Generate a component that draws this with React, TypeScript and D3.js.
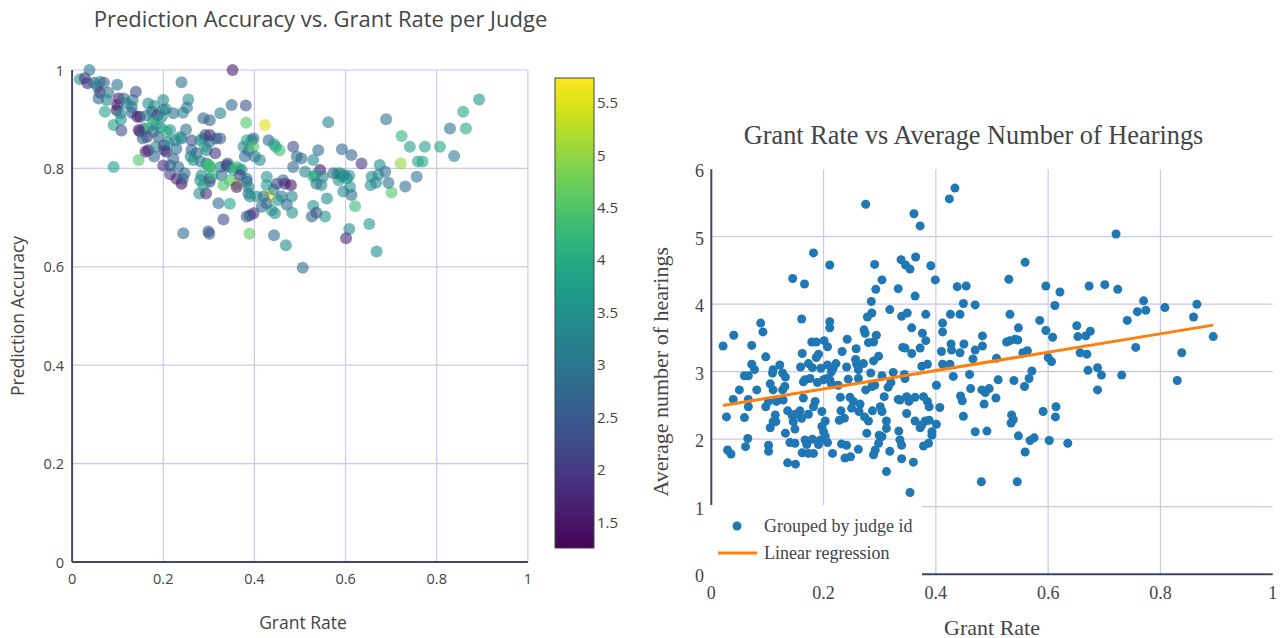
import React from "react";
import * as d3 from "d3";

// ---------- Left chart data: grant rate, prediction accuracy, avg hearings (colour) ----------
const leftGrant = [
  0.038, 0.017, 0.028, 0.034, 0.048, 0.061, 0.070, 0.056, 0.061, 0.058, 0.080, 0.076, 0.099, 0.072, 0.091,
  0.102, 0.099, 0.098, 0.106, 0.113, 0.120, 0.131, 0.133, 0.140, 0.131, 0.107, 0.108, 0.143, 0.149, 0.149,
  0.164, 0.158, 0.167, 0.180, 0.175, 0.187, 0.200, 0.200, 0.206, 0.178, 0.165, 0.184, 0.164, 0.146, 0.155,
  0.178, 0.189, 0.194, 0.207, 0.215, 0.197, 0.222, 0.243, 0.255, 0.240, 0.252, 0.167, 0.161, 0.180, 0.184,
  0.202, 0.202, 0.207, 0.146, 0.091, 0.211, 0.226, 0.229, 0.240, 0.237, 0.250, 0.222, 0.215, 0.200, 0.215,
  0.229, 0.240, 0.243, 0.247, 0.233, 0.262, 0.262, 0.260, 0.273, 0.281, 0.288, 0.291, 0.302, 0.316, 0.295,
  0.266, 0.282, 0.295, 0.299, 0.301, 0.302, 0.284, 0.281, 0.302, 0.302, 0.279, 0.294, 0.288, 0.308, 0.314,
  0.325, 0.328, 0.332, 0.339, 0.341, 0.346, 0.346, 0.354, 0.361, 0.367, 0.361, 0.361, 0.372, 0.368, 0.383,
  0.383, 0.387, 0.387, 0.390, 0.394, 0.383, 0.398, 0.387, 0.376, 0.398, 0.379, 0.401, 0.412, 0.325, 0.292,
  0.302, 0.382, 0.350, 0.381, 0.325, 0.288, 0.302, 0.352, 0.423, 0.431, 0.443, 0.455, 0.447, 0.485, 0.493,
  0.503, 0.485, 0.511, 0.529, 0.540, 0.544, 0.529, 0.533, 0.547, 0.536, 0.550, 0.562, 0.405, 0.427, 0.427,
  0.433, 0.442, 0.449, 0.463, 0.467, 0.480, 0.482, 0.460, 0.452, 0.438, 0.445, 0.427, 0.416, 0.420, 0.390,
  0.398, 0.383, 0.471, 0.483, 0.526, 0.555, 0.346, 0.321, 0.332, 0.244, 0.299, 0.301, 0.389, 0.443, 0.469,
  0.506, 0.689, 0.893, 0.858, 0.864, 0.829, 0.838, 0.723, 0.741, 0.774, 0.807, 0.721, 0.759, 0.769, 0.756,
  0.701, 0.731, 0.694, 0.675, 0.687, 0.672, 0.657, 0.655, 0.667, 0.635, 0.613, 0.592, 0.652, 0.668, 0.608,
  0.601, 0.621, 0.610, 0.595, 0.613, 0.596, 0.608, 0.582, 0.592, 0.603, 0.585, 0.588, 0.573, 0.559, 0.529,
  0.536,
];
const leftAccuracy = [
  1.000, 0.981, 0.983, 0.973, 0.974, 0.976, 0.974, 0.966, 0.954, 0.942, 0.954, 0.939, 0.970, 0.915, 0.888,
  0.942, 0.929, 0.918, 0.912, 0.942, 0.932, 0.925, 0.939, 0.956, 0.913, 0.899, 0.877, 0.905, 0.905, 0.875,
  0.908, 0.881, 0.932, 0.927, 0.915, 0.908, 0.939, 0.919, 0.920, 0.898, 0.881, 0.888, 0.864, 0.878, 0.861,
  0.875, 0.864, 0.883, 0.875, 0.878, 0.905, 0.912, 0.913, 0.940, 0.975, 0.924, 0.837, 0.834, 0.824, 0.844,
  0.847, 0.837, 0.834, 0.817, 0.803, 0.854, 0.857, 0.840, 0.861, 0.864, 0.879, 0.820, 0.806, 0.806, 0.788,
  0.779, 0.769, 0.779, 0.790, 0.803, 0.857, 0.838, 0.824, 0.831, 0.857, 0.861, 0.844, 0.854, 0.861, 0.837,
  0.817, 0.814, 0.810, 0.807, 0.803, 0.805, 0.786, 0.776, 0.779, 0.773, 0.749, 0.749, 0.766, 0.786, 0.831,
  0.803, 0.786, 0.766, 0.806, 0.810, 0.776, 0.803, 0.797, 0.803, 0.800, 0.769, 0.762, 0.797, 0.786, 0.779,
  0.773, 0.762, 0.749, 0.743, 0.857, 0.857, 0.861, 0.837, 0.844, 0.844, 0.824, 0.824, 0.817, 0.861, 0.868,
  0.868, 0.893, 0.929, 0.928, 0.912, 0.902, 0.898, 1.000, 0.888, 0.857, 0.849, 0.837, 0.844, 0.844, 0.824,
  0.820, 0.803, 0.793, 0.817, 0.837, 0.797, 0.783, 0.786, 0.766, 0.769, 0.783, 0.894, 0.743, 0.783, 0.766,
  0.745, 0.757, 0.769, 0.776, 0.769, 0.766, 0.743, 0.743, 0.736, 0.715, 0.709, 0.729, 0.722, 0.743, 0.705,
  0.709, 0.702, 0.726, 0.710, 0.702, 0.702, 0.728, 0.729, 0.696, 0.668, 0.672, 0.667, 0.667, 0.664, 0.644,
  0.598, 0.900, 0.940, 0.915, 0.881, 0.881, 0.825, 0.866, 0.844, 0.844, 0.844, 0.810, 0.814, 0.814, 0.783,
  0.751, 0.763, 0.771, 0.807, 0.793, 0.787, 0.783, 0.766, 0.771, 0.810, 0.827, 0.839, 0.687, 0.631, 0.677,
  0.658, 0.723, 0.762, 0.753, 0.746, 0.787, 0.785, 0.790, 0.783, 0.780, 0.776, 0.790, 0.790, 0.739, 0.724,
  0.710,
];
const leftHearings = [
  3.0, 3.6, 2.0, 1.8, 2.9, 3.2, 2.6, 3.0, 1.7, 2.8, 3.0, 3.3, 2.9, 3.8, 3.7,
  1.6, 1.6, 1.5, 3.4, 2.8, 3.2, 2.9, 3.1, 2.3, 2.7, 3.5, 2.3, 1.6, 1.7, 1.9,
  3.3, 2.7, 3.4, 3.6, 2.8, 1.8, 3.4, 2.8, 3.4, 3.5, 4.2, 4.0, 1.9, 1.7, 2.7,
  2.8, 2.7, 3.5, 4.2, 3.6, 3.4, 2.9, 3.3, 3.5, 2.9, 2.9, 1.5, 1.8, 2.7, 3.3,
  2.0, 2.4, 1.9, 4.5, 3.7, 3.4, 3.3, 2.8, 2.8, 3.6, 2.9, 2.6, 2.7, 1.9, 2.1,
  1.7, 1.4, 2.5, 2.8, 2.8, 2.4, 2.7, 3.3, 2.7, 3.4, 3.6, 4.1, 2.7, 2.6, 3.3,
  3.5, 3.2, 2.9, 4.3, 4.1, 4.4, 3.3, 3.5, 2.6, 2.1, 3.5, 1.9, 3.6, 4.2, 1.9,
  3.4, 2.8, 4.5, 1.5, 2.3, 4.4, 2.7, 4.0, 4.4, 4.2, 5.0, 1.6, 3.5, 2.0, 2.8,
  2.8, 3.3, 2.9, 3.5, 3.2, 3.8, 2.9, 2.8, 3.5, 4.5, 2.8, 2.9, 3.3, 2.5, 2.4,
  1.9, 4.5, 2.7, 2.4, 3.3, 2.6, 2.7, 1.6, 5.5, 2.8, 3.5, 4.3, 4.0, 2.3, 2.8,
  2.8, 2.8, 3.2, 3.4, 2.8, 1.5, 4.2, 3.7, 3.5, 2.9, 3.3, 3.3, 3.5, 3.5, 3.6,
  5.7, 3.3, 2.2, 2.7, 1.8, 1.5, 3.3, 2.9, 3.5, 3.7, 3.4, 2.7, 2.7, 2.8, 1.9,
  2.0, 2.6, 2.8, 3.5, 2.7, 3.5, 3.8, 2.8, 2.3, 2.8, 2.2, 2.5, 4.6, 2.8, 3.4,
  2.8, 2.9, 3.6, 3.9, 3.9, 3.0, 3.1, 4.2, 3.7, 3.8, 3.9, 5.0, 3.7, 4.0, 3.0,
  4.5, 2.9, 2.9, 3.4, 2.9, 3.3, 3.4, 3.5, 3.3, 2.0, 2.7, 2.8, 3.6, 3.4, 3.4,
  1.8, 4.3, 3.5, 3.3, 2.9, 2.8, 3.5, 4.2, 3.3, 3.4, 3.6, 3.5, 2.8, 3.4, 3.6,
  2.4,
];

// ---------- Right chart data: grant rate vs average number of hearings ----------
const rightGrant = [
  0.275, 0.361, 0.372, 0.182, 0.211, 0.145, 0.166, 0.291, 0.338, 0.346, 0.354, 0.364, 0.391, 0.399, 0.304,
  0.293, 0.333, 0.363, 0.285, 0.318, 0.286, 0.278, 0.339, 0.349, 0.382, 0.161, 0.211, 0.211, 0.088, 0.092,
  0.040, 0.021, 0.072, 0.272, 0.274, 0.294, 0.280, 0.289, 0.357, 0.376, 0.382, 0.412, 0.412, 0.179, 0.187,
  0.201, 0.207, 0.242, 0.233, 0.258, 0.341, 0.345, 0.357, 0.372, 0.410, 0.162, 0.191, 0.187, 0.097, 0.072,
  0.077, 0.059, 0.066, 0.122, 0.110, 0.109, 0.127, 0.132, 0.159, 0.173, 0.180, 0.195, 0.207, 0.222, 0.217,
  0.214, 0.241, 0.257, 0.259, 0.262, 0.271, 0.289, 0.298, 0.284, 0.304, 0.324, 0.344, 0.345, 0.375, 0.385,
  0.412, 0.050, 0.081, 0.105, 0.110, 0.131, 0.127, 0.164, 0.167, 0.176, 0.189, 0.200, 0.206, 0.211, 0.214,
  0.226, 0.244, 0.262, 0.275, 0.286, 0.291, 0.315, 0.320, 0.401, 0.039, 0.066, 0.164, 0.230, 0.247, 0.308,
  0.333, 0.348, 0.363, 0.378,
  0.027, 0.059, 0.066, 0.097, 0.102, 0.116, 0.128, 0.114, 0.110, 0.105, 0.115, 0.136, 0.144, 0.149, 0.158,
  0.146, 0.149, 0.132, 0.161, 0.173, 0.182, 0.185, 0.197, 0.203, 0.197, 0.200, 0.203, 0.065, 0.061, 0.029,
  0.035, 0.102, 0.102, 0.140, 0.149, 0.167, 0.180, 0.170, 0.191, 0.194, 0.207, 0.162, 0.173, 0.182, 0.136,
  0.150, 0.216, 0.231, 0.228, 0.237, 0.253, 0.265, 0.250, 0.263, 0.273, 0.280, 0.287, 0.301, 0.304, 0.312,
  0.312, 0.277, 0.299, 0.304, 0.298, 0.292, 0.289, 0.318, 0.232, 0.241, 0.262, 0.238, 0.248, 0.312, 0.334,
  0.336, 0.339, 0.339, 0.360, 0.336, 0.352, 0.385, 0.388, 0.348, 0.363, 0.375, 0.381, 0.388, 0.372, 0.393,
  0.393, 0.401, 0.407, 0.387, 0.378, 0.354,
  0.424, 0.434, 0.721, 0.559, 0.530, 0.438, 0.454, 0.596, 0.621, 0.673, 0.701, 0.724, 0.449, 0.470, 0.426,
  0.443, 0.532, 0.612, 0.770, 0.759, 0.774, 0.808, 0.865, 0.859, 0.894, 0.547, 0.585, 0.596, 0.608, 0.651,
  0.653, 0.667, 0.675, 0.741, 0.483, 0.483, 0.450, 0.427, 0.526, 0.532, 0.541, 0.546, 0.470, 0.428, 0.443,
  0.555, 0.563, 0.508, 0.466, 0.425, 0.600, 0.606, 0.657, 0.669, 0.756, 0.838, 0.571, 0.671, 0.688, 0.695,
  0.731, 0.460, 0.431, 0.511, 0.539, 0.566, 0.462, 0.482, 0.495, 0.558, 0.830, 0.688,
  0.488, 0.444, 0.447, 0.486, 0.507, 0.449, 0.470, 0.491, 0.535, 0.538, 0.534, 0.591, 0.614, 0.613, 0.547,
  0.568, 0.575, 0.602, 0.635, 0.559, 0.481, 0.545,
];
const rightHearings = [
  5.48, 5.34, 5.16, 4.76, 4.58, 4.38, 4.30, 4.59, 4.66, 4.58, 4.52, 4.70, 4.57, 4.36, 4.36,
  4.22, 4.23, 4.12, 4.04, 3.92, 3.87, 3.81, 3.82, 3.87, 3.85, 3.78, 3.74, 3.65, 3.72, 3.59,
  3.54, 3.38, 3.39, 3.62, 3.57, 3.54, 3.43, 3.44, 3.65, 3.57, 3.46, 3.72, 3.59, 3.44, 3.44,
  3.46, 3.37, 3.48, 3.30, 3.34, 3.36, 3.35, 3.27, 3.35, 3.30, 3.27, 3.26, 3.21, 3.22, 3.11,
  3.03, 2.94, 2.94, 3.10, 3.03, 2.98, 2.98, 2.92, 3.07, 3.12, 3.06, 3.05, 3.10, 3.12, 3.05,
  3.00, 3.07, 3.18, 3.11, 3.03, 3.12, 3.16, 3.23, 2.98, 2.94, 2.99, 2.96, 2.90, 3.08, 3.11,
  3.11, 2.73, 2.73, 2.82, 2.73, 2.78, 2.73, 2.85, 2.88, 2.90, 2.84, 2.88, 2.90, 2.88, 2.82,
  2.80, 2.89, 2.90, 2.73, 2.78, 2.80, 2.77, 2.84, 2.80, 2.59, 2.59, 2.61, 2.62, 2.62, 2.63,
  2.59, 2.63, 2.62, 2.63,
  2.33, 2.32, 2.48, 2.48, 2.56, 2.56, 2.58, 2.36, 2.26, 2.17, 2.26, 2.42, 2.35, 2.37, 2.42,
  2.26, 2.15, 2.09, 2.31, 2.37, 2.48, 2.56, 2.41, 2.27, 2.19, 2.11, 2.04, 2.01, 1.89, 1.84,
  1.78, 1.91, 1.82, 1.95, 1.94, 1.99, 2.00, 1.92, 1.92, 1.99, 1.95, 1.80, 1.79, 1.79, 1.65,
  1.63, 1.79, 2.42, 2.28, 2.31, 2.56, 2.52, 2.46, 2.41, 2.33, 2.27, 2.42, 2.48, 2.41, 2.27,
  2.16, 2.09, 2.06, 2.04, 1.94, 1.84, 1.77, 1.82, 1.93, 1.91, 1.85, 1.72, 1.74, 1.52, 2.12,
  1.99, 1.91, 1.71, 1.66, 2.58, 2.56, 2.56, 2.48, 2.38, 2.27, 2.21, 2.27, 2.28, 2.17, 2.11,
  2.06, 2.22, 2.47, 1.94, 1.90, 1.21,
  5.56, 5.72, 5.04, 4.62, 4.37, 4.26, 4.27, 4.27, 4.18, 4.27, 4.29, 4.22, 4.01, 3.99, 3.85,
  3.85, 3.85, 3.98, 4.05, 3.89, 3.91, 3.95, 4.00, 3.81, 3.52, 3.65, 3.76, 3.61, 3.51, 3.68,
  3.52, 3.53, 3.60, 3.76, 3.53, 3.38, 3.41, 3.41, 3.44, 3.46, 3.48, 3.47, 3.32, 3.32, 3.28,
  3.28, 3.31, 3.20, 3.19, 3.11, 3.21, 3.15, 3.28, 3.26, 3.36, 3.28, 3.01, 3.02, 3.06, 2.95,
  2.95, 2.96, 2.93, 2.88, 2.87, 2.90, 2.75, 2.73, 2.75, 2.78, 2.87, 2.73,
  2.69, 2.64, 2.57, 2.52, 2.61, 2.34, 2.11, 2.12, 2.36, 2.29, 2.24, 2.41, 2.48, 2.33, 2.05,
  1.98, 2.02, 1.98, 1.94, 1.81, 1.37, 1.37,
];
const regressionGrant = [0.021, 0.894];
const regressionHearings = [2.5, 3.69];

// ---------- Ticks and labels ----------
const leftTitle = "Prediction Accuracy vs. Grant Rate per Judge";
const rightTitle = "Grant Rate vs Average Number of Hearings";
const unitTicks = [0, 0.2, 0.4, 0.6, 0.8, 1];
const colorTicks = [1.5, 2, 2.5, 3, 3.5, 4, 4.5, 5, 5.5];
const colorDomain = [1.25, 5.73];
const rightYTicks = [0, 1, 2, 3, 4, 5, 6];
const legendLabels = ["Grouped by judge id", "Linear regression"];

export default function App() {
  const sans = "'Open Sans', sans-serif";
  const serif = "'Liberation Serif', 'Times New Roman', serif";
  const grid = "#c8c8ef";
  const axisCol = "#45456c";
  const textCol = "#444";

  // left scales
  const lx = d3.scaleLinear().domain([0, 1]).range([72.1, 527.9]);
  const ly = d3.scaleLinear().domain([0, 1]).range([562, 70]);
  const color = d3.scaleSequential(d3.interpolateViridis).domain(colorDomain as [number, number]);
  const cb = d3.scaleLinear().domain(colorDomain).range([548, 78]);
  const stops = d3.range(0, 1.0001, 0.05);

  // right scales
  const rx = d3.scaleLinear().domain([0, 1]).range([711.3, 1272.7]);
  const ry = d3.scaleLinear().domain([0, 6]).range([574.2, 169.2]);
  const regLine = d3
    .line<number>()
    .x((_, i) => rx(regressionGrant[i]))
    .y((_, i) => ry(regressionHearings[i]));

  return (
    <svg
      width={1288}
      height={638}
      style={{ position: "absolute", left: 0, top: 0, background: "#fff" }}
    >
      <defs>
        <linearGradient id="viridis" x1="0" y1="1" x2="0" y2="0">
          {stops.map((t) => (
            <stop key={t} offset={`${t * 100}%`} stopColor={d3.interpolateViridis(t)} />
          ))}
        </linearGradient>
      </defs>

      {/* ================= LEFT CHART ================= */}
      <text x={320.5} y={18} textAnchor="middle" dominantBaseline="central" fontFamily={sans} fontSize={22} fill={textCol}>
        {leftTitle}
      </text>
      {unitTicks.slice(1).map((t) => (
        <line key={"lgx" + t} x1={lx(t)} x2={lx(t)} y1={ly(1)} y2={ly(0)} stroke={grid} strokeWidth={1.2} />
      ))}
      {unitTicks.slice(1).map((t) => (
        <line key={"lgy" + t} x1={lx(0)} x2={lx(1)} y1={ly(t)} y2={ly(t)} stroke={grid} strokeWidth={1.2} />
      ))}
      <line x1={lx(0)} x2={lx(0)} y1={ly(1)} y2={ly(0)} stroke={axisCol} strokeWidth={2} />
      <line x1={lx(0)} x2={lx(1)} y1={ly(0)} y2={ly(0)} stroke={axisCol} strokeWidth={2} />
      {unitTicks.map((t) => (
        <text key={"lty" + t} x={64} y={ly(t)} textAnchor="end" dominantBaseline="central" fontFamily={sans} fontSize={14.5} fill={textCol}>
          {String(t)}
        </text>
      ))}
      {unitTicks.map((t) => (
        <text key={"ltx" + t} x={lx(t)} y={578} textAnchor="middle" dominantBaseline="central" fontFamily={sans} fontSize={14.5} fill={textCol}>
          {String(t)}
        </text>
      ))}
      <text x={303} y={622} textAnchor="middle" dominantBaseline="central" fontFamily={sans} fontSize={17.5} fill={textCol}>
        Grant Rate
      </text>
      <text
        transform={`translate(17,316) rotate(-90)`}
        textAnchor="middle"
        dominantBaseline="central"
        fontFamily={sans}
        fontSize={17.5}
        fill={textCol}
      >
        Prediction Accuracy
      </text>
      {leftGrant.map((g, i) => (
        <circle key={"lp" + i} cx={lx(g)} cy={ly(leftAccuracy[i])} r={6} fill={color(leftHearings[i])} fillOpacity={0.6} />
      ))}

      {/* colour bar */}
      <rect x={555} y={78} width={39} height={470} fill="url(#viridis)" stroke="#444" strokeWidth={1} />
      {colorTicks.map((t) => (
        <text key={"cb" + t} x={597} y={cb(t)} dominantBaseline="central" fontFamily={sans} fontSize={15} fill={textCol}>
          {t}
        </text>
      ))}

      {/* ================= RIGHT CHART ================= */}
      <text x={973.5} y={135} textAnchor="middle" dominantBaseline="central" fontFamily={serif} fontSize={26.3} fill={textCol}>
        {rightTitle}
      </text>
      {unitTicks.slice(1, 5).map((t) => (
        <line key={"rgx" + t} x1={rx(t)} x2={rx(t)} y1={ry(6)} y2={ry(0)} stroke={grid} strokeWidth={1.2} />
      ))}
      {rightYTicks.slice(1, 6).map((t) => (
        <line key={"rgy" + t} x1={rx(0)} x2={rx(1)} y1={ry(t)} y2={ry(t)} stroke={grid} strokeWidth={1.2} />
      ))}
      <line x1={rx(0)} x2={rx(0)} y1={ry(6)} y2={ry(0)} stroke={axisCol} strokeWidth={2} />
      <line x1={rx(0)} x2={rx(1)} y1={ry(0)} y2={ry(0)} stroke={axisCol} strokeWidth={2} />
      {rightGrant.map((g, i) => (
        <circle key={"rp" + i} cx={rx(g)} cy={ry(rightHearings[i])} r={4.5} fill="#1f77b4" />
      ))}
      <path d={regLine([0, 1]) || ""} fill="none" stroke="#ff7f0e" strokeWidth={3} />

      {/* legend */}
      <rect x={706} y={505} width={216} height={72} fill="#fff" />
      <circle cx={737} cy={526} r={4.5} fill="#1f77b4" />
      <text x={764} y={526} dominantBaseline="central" fontFamily={serif} fontSize={18} fill={textCol}>
        {legendLabels[0]}
      </text>
      <line x1={718} x2={757} y1={553} y2={553} stroke="#ff7f0e" strokeWidth={3} />
      <text x={764} y={553} dominantBaseline="central" fontFamily={serif} fontSize={18} fill={textCol}>
        {legendLabels[1]}
      </text>

      {rightYTicks.map((t) => (
        <text key={"rty" + t} x={704} y={ry(t) + 2} textAnchor="end" dominantBaseline="central" fontFamily={serif} fontSize={18} fill={textCol}>
          {t}
        </text>
      ))}
      {unitTicks.map((t) => (
        <text key={"rtx" + t} x={rx(t)} y={593} textAnchor="middle" dominantBaseline="central" fontFamily={serif} fontSize={18} fill={textCol}>
          {String(t)}
        </text>
      ))}
      <text x={992} y={627} textAnchor="middle" dominantBaseline="central" fontFamily={serif} fontSize={22} fill={textCol}>
        Grant Rate
      </text>
      <text
        transform={`translate(660,371.7) rotate(-90)`}
        textAnchor="middle"
        dominantBaseline="central"
        fontFamily={serif}
        fontSize={22}
        fill={textCol}
      >
        Average number of hearings
      </text>
    </svg>
  );
}
